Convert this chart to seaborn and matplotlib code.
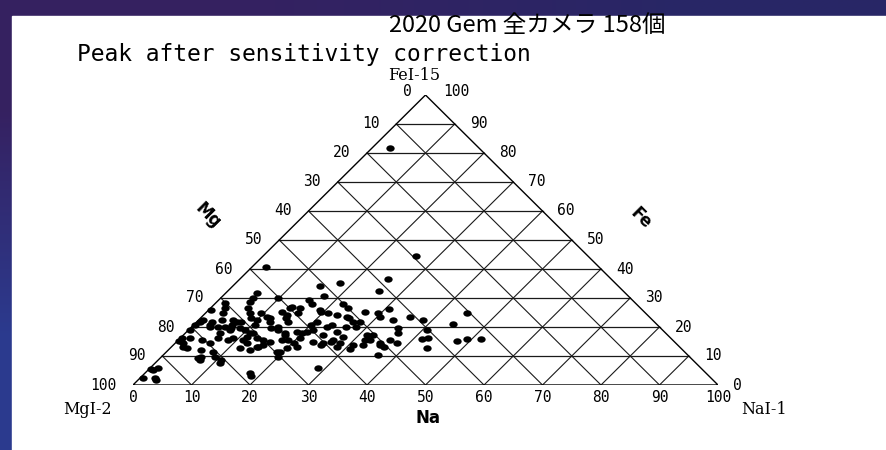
import numpy as np
import pandas as pd
import matplotlib
matplotlib.use("Agg")
import matplotlib.pyplot as plt
import seaborn as sns
from matplotlib.patches import Rectangle, Polygon
from matplotlib.path import Path
from matplotlib.transforms import offset_copy, Affine2D

# Peak composition (%) of each meteor: Na and Fe; Mg is the remainder.
na = [3.0, 2.4, 26.2, 17.8, 25.3, 25.9, 14.9, 5.3, 5.5, 17.3, 15.4, 16.6, 9.8, 21.9,
      13.8, 15.2, 12.9, 14.2, 15.6, 2.4, 3.0, 6.4, 7.6, 8.7, 10.0, 11.2, 12.5, 14.8,
      19.1, 20.9, 22.8, 24.9, 26.7, 27.9, 27.1, 29.5, 30.7, 30.5, 33.2, 35.7, 38.4,
      35.5, 36.3, 40.8, 41.5, 43.9, 36.1, 37.9, 35.0, 32.7, 31.4, 36.7, 30.7, 30.9,
      28.3, 25.3, 21.3, 20.6, 20.0, 20.6, 23.2, 23.7, 25.8, 27.6, 23.9, 18.9, 19.9,
      20.4, 20.2, 17.7, 17.4, 19.9, 21.4, 18.9, 20.0, 28.7, 17.9, 18.7, 14.0, 14.6,
      15.3, 12.3, 11.2, 11.5, 13.1, 8.5, 7.0, 6.6, 7.1, 11.9, 16.0, 10.7, 9.2, 8.0,
      6.4, 5.9, 4.5, 2.6, 4.0, 3.2, 5.5, 4.0, 6.4, 1.6, 1.3, 0.3, 2.8, 0.3, 0.6, 0.2,
      1.6, 0.3, 0.8, 5.7, 1.4, 2.6, 0.8, 0.3, 0.5, 3.1, 5.7, 9.0, 8.5, 26.4, 28.2,
      23.5, 44.7, 44.2, 49.2, 51.6, 47.8, 42.3, 35.3, 31.9, 32.4, 32.4, 11.1, 7.2,
      0.3, 1.9, 6.8, 2.8, 5.9, 9.5, 5.9, 7.6, 10.5, 6.9, 9.6, 11.1, 11.0, 14.8, 14.5,
      11.8, 14.6, 13.5, 15.8, 13.8, 15.3, 17.0, 18.7, 19.4, 25.4, 28.1, 26.4, 26.4,
      23.4, 25.2, 36.3, 19.5]
fe = [81.7, 40.7, 44.5, 35.2, 36.6, 32.4, 34.1, 31.7, 30.0, 30.7, 29.3, 27.9, 30.0,
      27.9, 26.9, 26.6, 25.2, 24.1, 21.7, 26.6, 24.8, 26.6, 24.8, 23.1, 22.4, 23.4,
      21.7, 20.0, 25.9, 24.8, 24.1, 23.4, 21.7, 21.7, 25.2, 24.8, 26.2, 23.4, 22.4,
      23.4, 22.4, 19.7, 17.9, 19.0, 15.9, 12.8, 15.5, 14.5, 14.5, 15.5, 17.2, 10.3,
      13.8, 12.4, 13.1, 14.5, 19.0, 18.3, 20.7, 21.7, 20.0, 20.7, 18.3, 16.6, 17.2,
      18.3, 17.9, 16.2, 14.5, 15.5, 17.2, 12.8, 13.1, 11.4, 9.7, 5.9, 4.1, 3.1, 12.1,
      13.1, 13.8, 14.5, 16.6, 17.9, 16.2, 19.7, 21.7, 20.7, 19.0, 12.8, 14.8, 8.6,
      9.7, 11.4, 16.2, 17.9, 20.0, 21.7, 22.4, 20.0, 12.1, 15.5, 9.3, 16.2, 14.5,
      16.2, 12.8, 20.7, 21.7, 19.0, 28.3, 25.9, 22.4, 28.6, 5.9, 2.4, 5.2, 5.5, 2.4,
      1.7, 20.0, 16.2, 15.5, 15.5, 14.5, 26.6, 24.8, 21.0, 15.9, 15.9, 15.2, 16.2,
      13.8, 15.5, 17.2, 13.8, 7.6, 8.6, 15.2, 13.2, 9.8, 20.7, 14.5, 24.8, 22.4, 21.7,
      20.7, 19.7, 19.0, 17.9, 15.5, 13.1, 15.5, 23.1, 23.1, 26.6, 24.8, 19.7, 19.0,
      17.9, 15.5, 11.4, 23.1, 20.0, 20.0, 14.8, 14.8, 13.8, 13.1, 25.2]
mg = [round(100 - a - b, 1) for a, b in zip(na, fe)]

ticks = list(range(0, 101, 10))
title = "2020 Gem 全カメラ 158個"
subtitle = "Peak after sensitivity correction"

df = pd.DataFrame({"Na": na, "Mg": mg, "Fe": fe})
# ternary -> cartesian (Na along the base, Fe up to the apex)
df["x"] = df["Na"] + df["Fe"] / 2
df["y"] = df["Fe"]

W, H = 887, 450
fig = plt.figure(figsize=(W / 100, H / 100), dpi=100)

# page background and white panel
bg = fig.add_axes([0, 0, 1, 1])
grad = np.array([[[0.21, 0.13, 0.38], [0.16, 0.15, 0.40]],
                 [[0.17, 0.23, 0.56], [0.16, 0.18, 0.46]]])
bg.imshow(grad, extent=[0, W, H, 0], interpolation="bilinear", aspect="auto")
bg.add_patch(Rectangle((12, 16), W - 12, H - 16, color="white", zorder=2))
bg.set_xlim(0, W)
bg.set_ylim(H, 0)
bg.axis("off")

ax = fig.add_axes([133 / W, (H - 385) / H, 585 / W, 290 / H])

lc = "#1a1a1a"
for k in ticks[1:-1]:
    # constant Fe
    ax.plot([k / 2, 100 - k / 2], [k, k], color=lc, lw=0.9, zorder=1)
    # constant Na
    ax.plot([k, k + (100 - k) / 2], [0, 100 - k], color=lc, lw=0.8, zorder=1)
    # constant Mg
    ax.plot([k, k / 2], [0, k], color=lc, lw=0.8, zorder=1)
ax.add_patch(Polygon([[0, 0], [100, 0], [50, 100]], closed=True, fill=False,
                     edgecolor="black", lw=1.0, zorder=1))

oval = Path.unit_circle().transformed(Affine2D().scale(1.3, 1.0))
sns.scatterplot(data=df, x="x", y="y", ax=ax, color="black", marker=oval,
                s=36, linewidth=0, legend=False, zorder=3)
ax.set_xlim(0, 100)
ax.set_ylim(0, 100)
ax.axis("off")


def off(dx, dy):
    return offset_copy(ax.transData, fig=fig, x=dx, y=dy, units="dots")


tk = dict(fontsize=10.5, family="DejaVu Sans Mono", color="black")
for m in ticks[1:]:
    f = 100 - m
    ax.text(f / 2, f, str(m), transform=off(-17, 0), ha="right", va="center", **tk)
for f in ticks[:-1]:
    ax.text(100 - f / 2, f, str(f), transform=off(15, 0), ha="left", va="center", **tk)
for n in ticks:
    ax.text(n, 0, str(n), transform=off(0, -12), ha="center", va="center", **tk)
ax.text(50, 100, "0", transform=off(-14, 3), ha="right", va="center", **tk)
ax.text(50, 100, "100", transform=off(18, 3), ha="left", va="center", **tk)

ck = dict(fontsize=11.5, family="DejaVu Serif", color="black")
ax.text(0, 0, "MgI-2", transform=off(-45, -25), ha="center", va="center", **ck)
ax.text(100, 0, "NaI-1", transform=off(46, -25), ha="center", va="center", **ck)
ax.text(50, 100, "FeI-15", transform=off(-11, 19), ha="center", va="center", **ck)

bk = dict(fontsize=12, family="DejaVu Sans", weight="heavy", color="black", zorder=5)
bg.text(208, 216, "Mg", rotation=-45, ha="center", va="center", **bk)
bg.text(641, 218, "Fe", rotation=-45, ha="center", va="center", **bk)
bg.text(428, 418, "Na", ha="center", va="center", **bk)

bg.text(527, 25, title, fontsize=17, family=["Noto Sans CJK JP", "DejaVu Sans"],
        ha="center", va="center", color="black", zorder=5)
bg.text(77, 55, subtitle, fontsize=16.5, family="DejaVu Sans Mono",
        ha="left", va="center", color="black", zorder=5)

fig.savefig("out.png", dpi=100)
